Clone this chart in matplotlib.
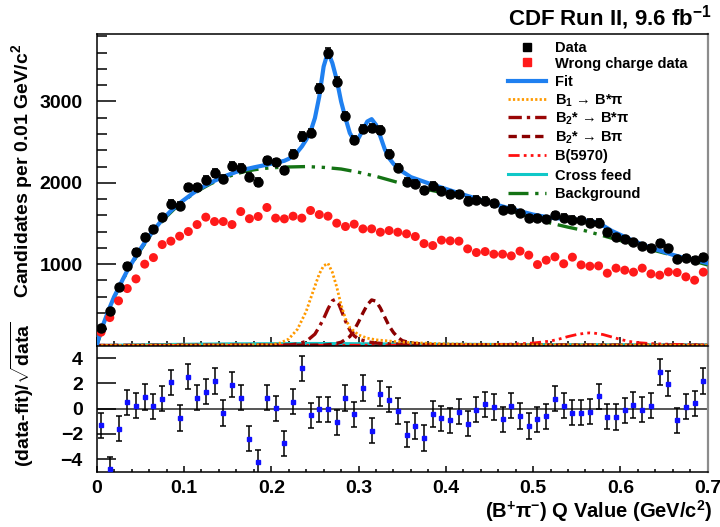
"""CDF B+pi- Q-value spectrum with fit and pull panel."""

import matplotlib

matplotlib.use("Agg")
import matplotlib.pyplot as plt
import numpy as np
from matplotlib.ticker import MultipleLocator

# ---------------- data ----------------
q_centers = np.arange(70) * 0.01 + 0.005

data_counts = [
    213, 429, 721, 979, 1151, 1336, 1434, 1582, 1745, 1721,
    1947, 1947, 2037, 2123, 2053, 2205, 2188, 2076, 2009, 2275,
    2250, 2152, 2353, 2570, 2615, 3160, 3595, 3242, 2820, 2529,
    2664, 2673, 2652, 2357, 2188, 2016, 1991, 1910, 1963, 1905,
    1861, 1861, 1782, 1795, 1782, 1750, 1668, 1684, 1627, 1566,
    1566, 1557, 1603, 1573, 1549, 1541, 1512, 1512, 1397, 1336,
    1307, 1278, 1221, 1197, 1262, 1197, 1061, 1081, 1053, 1086,
]
wrong_charge = [
    164, 343, 549, 700, 819, 1000, 1081, 1241, 1283, 1344,
    1401, 1487, 1578, 1524, 1524, 1487, 1647, 1559, 1586, 1697,
    1566, 1557, 1590, 1566, 1660, 1610, 1590, 1504, 1463, 1492,
    1434, 1434, 1393, 1413, 1393, 1373, 1340, 1253, 1229, 1295,
    1287, 1283, 1188, 1143, 1155, 1123, 1123, 1102, 1160, 1111,
    995, 1049, 1090, 1005, 1086, 991, 975, 979, 889, 951,
    926, 902, 951, 881, 865, 905, 897, 844, 803, 902,
]
pulls = [
    -1.33, -4.82, -1.59, 0.50, 0.24, 0.92, 0.18, 0.79, 2.09, -0.74,
    2.54, 0.87, 1.35, 2.19, -0.35, 1.90, 0.87, -2.38, -4.24, 0.87,
    0.02, -2.75, 0.56, 3.20, -0.53, -0.06, -0.06, -1.09, 0.84, -0.45,
    1.64, -1.75, 1.19, 0.71, -0.19, -2.06, -1.38, -2.33, -0.43, -0.77,
    -0.93, -0.24, -1.19, -0.08, 0.34, 0.13, -0.85, 0.24, -0.58, -1.38,
    -0.85, -0.61, 0.79, 0.24, -0.32, -0.32, -0.24, 0.98, -0.64, -0.66,
    -0.13, 0.29, -0.08, 0.24, 2.90, 1.98, -0.93, 0.16, 0.42, 2.19,
]

fit_x = [0, 0.005, 0.01, 0.015, 0.02, 0.025, 0.03, 0.035, 0.04, 0.045,
         0.05, 0.055, 0.06, 0.065, 0.07, 0.075, 0.08, 0.085, 0.09, 0.095,
         0.10, 0.11, 0.12, 0.13, 0.14, 0.15, 0.16, 0.17, 0.18, 0.19,
         0.20, 0.21, 0.215, 0.22, 0.225, 0.23, 0.235, 0.24, 0.245, 0.25,
         0.255, 0.26, 0.265, 0.27, 0.275, 0.28, 0.285, 0.29, 0.295, 0.30,
         0.305, 0.31, 0.315, 0.32, 0.325, 0.33, 0.335, 0.34, 0.345, 0.35,
         0.36, 0.38, 0.40, 0.42, 0.44, 0.46, 0.48, 0.50, 0.52, 0.54,
         0.56, 0.57, 0.58, 0.59, 0.60, 0.61, 0.62, 0.63, 0.64, 0.65,
         0.66, 0.67, 0.68, 0.69, 0.70]
fit_y = [0, 191, 330, 470, 600, 705, 815, 920, 1010, 1100,
         1185, 1265, 1340, 1410, 1480, 1545, 1600, 1655, 1705, 1750,
         1790, 1870, 1940, 2000, 2050, 2095, 2135, 2165, 2190, 2212,
         2235, 2258, 2271, 2295, 2332, 2380, 2446, 2530, 2631, 2796,
         3061, 3430, 3610, 3472, 3267, 3000, 2796, 2612, 2520, 2550,
         2652, 2754, 2783, 2713, 2570, 2414, 2304, 2234, 2184, 2140,
         2070, 1995, 1925, 1855, 1790, 1725, 1665, 1610, 1570, 1555,
         1535, 1520, 1475, 1410, 1360, 1310, 1265, 1220, 1185, 1150,
         1115, 1085, 1065, 1040, 1012]

bkg_x = [0, 0.01, 0.02, 0.03, 0.04, 0.05, 0.06, 0.07, 0.08, 0.09,
         0.10, 0.11, 0.12, 0.13, 0.14, 0.15, 0.16, 0.17, 0.18, 0.19,
         0.20, 0.22, 0.24, 0.26, 0.28, 0.30, 0.32, 0.34, 0.36, 0.38,
         0.40, 0.42, 0.44, 0.46, 0.48, 0.50, 0.52, 0.54, 0.56, 0.58,
         0.60, 0.62, 0.64, 0.66, 0.68, 0.70]
bkg_y = [0, 310, 590, 810, 1000, 1170, 1330, 1465, 1585, 1690,
         1780, 1860, 1925, 1985, 2035, 2075, 2110, 2140, 2160, 2175,
         2185, 2195, 2200, 2190, 2170, 2130, 2080, 2020, 1960, 1915,
         1870, 1820, 1765, 1705, 1640, 1565, 1505, 1455, 1410, 1350,
         1290, 1225, 1165, 1110, 1050, 990]

b1_x = [0, 0.20, 0.21, 0.22, 0.23, 0.24, 0.25, 0.255, 0.26, 0.265,
        0.27, 0.275, 0.28, 0.285, 0.29, 0.30, 0.31, 0.32, 0.34, 0.36,
        0.40, 0.45, 0.50, 0.70]
b1_y = [0, 10, 30, 80, 200, 420, 730, 880, 980, 1010,
        900, 720, 500, 330, 220, 130, 90, 70, 50, 35,
        20, 12, 8, 3]

b2st_x = [0, 0.22, 0.23, 0.24, 0.25, 0.255, 0.26, 0.265, 0.27, 0.273,
          0.277, 0.28, 0.285, 0.29, 0.295, 0.30, 0.31, 0.32, 0.34, 0.40,
          0.70]
b2st_y = [0, 5, 20, 50, 140, 230, 330, 450, 550, 565,
          520, 440, 300, 190, 120, 80, 45, 30, 18, 8,
          2]

b2b_x = [0, 0.26, 0.27, 0.28, 0.29, 0.295, 0.30, 0.305, 0.31, 0.315,
         0.32, 0.325, 0.33, 0.335, 0.34, 0.345, 0.35, 0.36, 0.38, 0.40,
         0.70]
b2b_y = [0, 5, 15, 40, 110, 190, 290, 400, 500, 560,
         545, 460, 350, 240, 160, 100, 60, 30, 12, 6,
         1]

b5970_x = [0, 0.40, 0.45, 0.48, 0.50, 0.52, 0.53, 0.54, 0.55, 0.56,
           0.565, 0.57, 0.58, 0.59, 0.60, 0.61, 0.62, 0.64, 0.67, 0.70]
b5970_y = [0, 5, 10, 18, 30, 55, 80, 110, 135, 152,
           155, 152, 135, 105, 75, 50, 35, 20, 12, 8]

xfeed_x = [0, 0.05, 0.10, 0.15, 0.20, 0.25, 0.30, 0.35, 0.40, 0.50, 0.60, 0.70]
xfeed_y = [0, 8, 15, 20, 22, 25, 22, 18, 15, 12, 10, 8]

legend_labels = [
    "Data",
    "Wrong charge data",
    "Fit",
    "B$_{1}$ → B*π",
    "B$_{2}$* → B*π",
    "B$_{2}$* → Bπ",
    "B(5970)",
    "Cross feed",
    "Background",
]

# ---------------- style ----------------
plt.rcParams.update(
    {
        "font.family": ["Liberation Sans", "DejaVu Sans"],
        "font.weight": "bold",
        "mathtext.fontset": "custom",
        "mathtext.rm": "Liberation Sans:bold",
        "mathtext.it": "Liberation Sans:bold",
        "mathtext.bf": "Liberation Sans:bold",
        "mathtext.sf": "Liberation Sans:bold",
        "axes.linewidth": 1.1,
    }
)

C_FIT = "#1f80f0"
C_BKG = "#147314"
C_B1 = "#ff9a00"
C_B2ST = "#9a0606"
C_B2B = "#8a0000"
C_B5970 = "#ff1010"
C_XF = "#10c8c8"
C_WRONG = "#ff1a1a"

LS_B1 = (0, (0.8, 0.8))
LS_B2ST = (0, (4, 1.5, 1, 1.5))
LS_B2B = (0, (2.5, 1.5))
LS_B5970 = (0, (4, 1.5, 1, 1.5, 1, 1.5, 1, 1.5))
LS_BKG = (0, (6, 2, 1, 2, 1, 2))

fig = plt.figure(figsize=(7.2, 5.27), dpi=100)
ax = fig.add_axes([0.1343, 0.3444, 0.8486, 0.5911])
axr = fig.add_axes([0.1343, 0.1049, 0.8486, 0.2395])

# ---------------- top panel ----------------
ax.plot(xfeed_x, xfeed_y, color=C_XF, lw=2.2, zorder=2)
ax.plot(b5970_x, b5970_y, color=C_B5970, lw=2.0, ls=LS_B5970, zorder=3)
ax.plot(b2b_x, b2b_y, color=C_B2B, lw=2.4, ls=LS_B2B, zorder=3)
ax.plot(b2st_x, b2st_y, color=C_B2ST, lw=2.4, ls=LS_B2ST, zorder=3)
ax.plot(b1_x, b1_y, color=C_B1, lw=2.0, ls=LS_B1, zorder=3)
ax.plot(bkg_x, bkg_y, color=C_BKG, lw=2.4, ls=LS_BKG, zorder=3)
ax.plot(fit_x, fit_y, color=C_FIT, lw=3.0, zorder=4)

ax.scatter(q_centers, wrong_charge, s=42, color=C_WRONG, edgecolors="none", zorder=5)
ax.errorbar(q_centers, data_counts, yerr=np.sqrt(data_counts), fmt="o", ms=6.5,
            color="black", ecolor="black", elinewidth=1.2, capsize=2.5, capthick=1.2,
            zorder=6)

ax.set_xlim(0, 0.7)
ax.set_ylim(0, 3830)
ax.set_yticks([1000, 2000, 3000])
ax.yaxis.set_minor_locator(MultipleLocator(200))
ax.xaxis.set_major_locator(MultipleLocator(0.1))
ax.xaxis.set_minor_locator(MultipleLocator(0.02))
ax.tick_params(axis="y", which="major", direction="in", length=14, width=1.1,
               labelsize=14, pad=10)
ax.tick_params(axis="y", which="minor", direction="in", length=7.5, width=1.1)
ax.tick_params(axis="x", which="major", direction="in", length=6.5, width=1.1,
               labelbottom=False)
ax.tick_params(axis="x", which="minor", direction="in", length=3.5, width=1.1)
ax.spines["right"].set_color("#8c8c8c")
ax.spines["right"].set_linewidth(1.6)

# legend drawn by hand (ROOT-style uniform rows); positions in axes fraction
row_px = [47, 62.3, 80.7, 99.3, 117.3, 136, 155, 174.3, 192.7]
ax_top_px, ax_h_px = 34.0, 311.5
line_styles = [None, None, "-", LS_B1, LS_B2ST, LS_B2B, LS_B5970, "-", LS_BKG]
line_colors = [None, None, C_FIT, C_B1, C_B2ST, C_B2B, C_B5970, C_XF, C_BKG]
line_widths = [None, None, 3.0, 2.0, 2.4, 2.4, 2.0, 2.2, 2.4]
for i, label in enumerate(legend_labels):
    yc = 1 - (row_px[i] - ax_top_px) / ax_h_px
    yb = 1 - (row_px[i] + 5.3 - ax_top_px) / ax_h_px
    if i == 0:
        ax.plot([0.704], [yc], marker="s", ms=6, color="black",
                transform=ax.transAxes, clip_on=False)
    elif i == 1:
        ax.plot([0.704], [yc], marker="s", ms=6, color=C_WRONG,
                transform=ax.transAxes, clip_on=False)
    else:
        ax.plot([0.673, 0.735], [yc, yc], color=line_colors[i], lw=line_widths[i],
                ls=line_styles[i], transform=ax.transAxes, clip_on=False)
    ax.text(0.750, yb, label, transform=ax.transAxes, fontsize=10.5,
            ha="left", va="baseline")

# ---------------- pull panel ----------------
axr.axhline(0, color="#555555", lw=1.4, zorder=1)
axr.errorbar(q_centers, pulls, yerr=1.0, fmt="s", ms=3.2, color="#1010ff",
             ecolor="black", elinewidth=1.1, capsize=2.5, capthick=1.1, zorder=3)
axr.set_xlim(0, 0.7)
axr.set_ylim(-5, 5)
axr.set_yticks([-4, -2, 0, 2, 4])
axr.xaxis.set_minor_locator(MultipleLocator(0.02))
axr.set_xticks([0, 0.1, 0.2, 0.3, 0.4, 0.5, 0.6, 0.7])
axr.set_xticklabels(["0", "0.1", "0.2", "0.3", "0.4", "0.5", "0.6", "0.7"])
axr.tick_params(axis="y", which="major", direction="in", length=14, width=1.1,
                labelsize=14, pad=10)
axr.tick_params(axis="x", which="major", direction="in", length=4.5, width=1.1,
                labelsize=14, pad=6)
axr.tick_params(axis="x", which="minor", direction="in", length=2.5, width=1.1)
axr.spines["right"].set_color("#8c8c8c")
axr.spines["right"].set_linewidth(1.6)

# ---------------- labels ----------------
fig.text(0.031, 0.6755, "Candidates per 0.01 GeV/c$^{2}$", rotation=90,
         ha="center", va="center", fontsize=14)
fig.text(0.031, 0.2524, r"(data-fit)/$\sqrt{\mathrm{data}}$", rotation=90,
         ha="center", va="center", fontsize=14)
fig.text(0.989, 0.03, "(B$^{+}$π$^{-}$) Q Value (GeV/c$^{2}$)", ha="right",
         va="center", fontsize=14.5)
fig.text(0.989, 0.966, "CDF Run II, 9.6 fb$^{-1}$", ha="right", va="center",
         fontsize=16)

fig.savefig("out.png", dpi=100)
